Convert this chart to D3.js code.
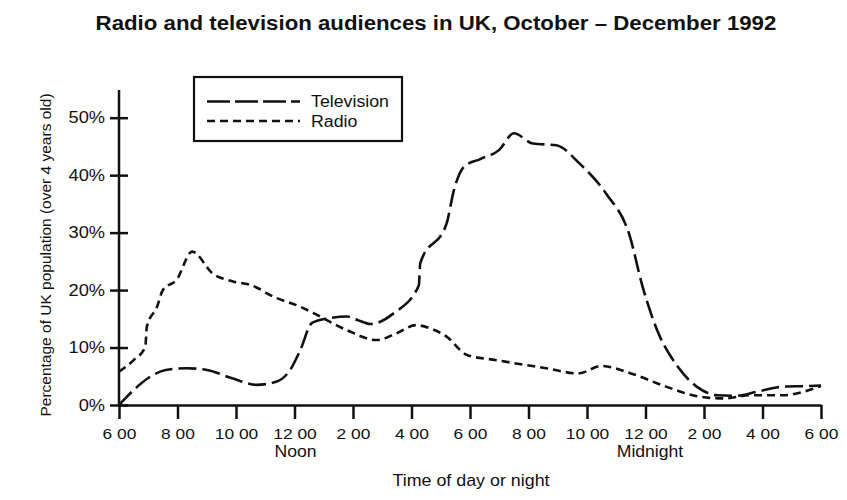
<!DOCTYPE html>
<html>
<head>
<meta charset="utf-8">
<script src="https://cdn.jsdelivr.net/npm/d3@7"></script>
<style>
  html, body { margin: 0; padding: 0; background: #fff; }
  svg { display: block; font-family: "Liberation Sans", Arial, sans-serif; }
</style>
</head>
<body>
<svg id="chart" width="847" height="500"></svg>
<script>
// Hours after 06:00 and audience share (% of UK population over 4)
const tvHours = [0, 0.5, 1.0, 1.6, 2.3, 3.0, 3.9, 4.7, 5.4, 5.85, 6.2, 6.6, 7.2, 7.8, 8.15, 8.6, 9.4, 10.25, 10.3, 11.2, 11.45, 11.8, 12.35, 13.0, 13.5, 14.15, 14.95, 15.75, 16.65, 17.45, 17.9, 18.4, 19.1, 19.75, 20.45, 21.1, 21.8, 22.7, 23.6, 24];
const tvValues = [0, 2.6, 4.7, 6.1, 6.4, 6.1, 4.6, 3.5, 4.1, 6.1, 9.6, 14.3, 15.1, 15.4, 14.8, 14.1, 16, 20.8, 24.7, 31.6, 37.4, 41.5, 42.8, 44.4, 47.3, 45.5, 45.2, 42, 36.8, 29.6, 20.6, 13, 6.7, 3.2, 1.7, 1.6, 2.3, 3.2, 3.3, 3.4];

const radioHours = [0, 0.5, 0.9, 0.95, 1.3, 1.5, 1.97, 2.5, 3.2, 3.9, 4.5, 5.3, 6.2, 6.65, 7.8, 8.8, 9.5, 10.15, 10.65, 11.2, 11.9, 12.9, 14.6, 15.7, 16.5, 17.5, 18.7, 19.85, 20.7, 21.6, 22.7, 23.4, 24];
const radioValues = [5.8, 7.8, 10.1, 13.6, 17.1, 20, 21.8, 26.7, 22.9, 21.5, 20.9, 18.8, 17.1, 16, 13, 11.3, 12.5, 13.9, 13.3, 11.9, 8.7, 7.8, 6.4, 5.5, 6.8, 5.5, 3.2, 1.45, 1.15, 1.7, 1.7, 2.3, 3.3];

const tickHours = [0, 2, 4, 6, 8, 10, 12, 14, 16, 18, 20, 22, 24];
const tickLabels = ["6 00", "8 00", "10 00", "12 00", "2 00", "4 00", "6 00", "8 00", "10 00", "12 00", "2 00", "4 00", "6 00"];
const yTicks = [0, 10, 20, 30, 40, 50];
const seriesNames = ["Television", "Radio"];

const svg = d3.select("#chart");
const ink = "#111";

// Text in this chart is set slightly wide; stretch glyphs horizontally.
function widen(sel, factor) {
  sel.each(function () {
    const w = this.getComputedTextLength();
    d3.select(this)
      .attr("textLength", w * factor)
      .attr("lengthAdjust", "spacingAndGlyphs");
  });
  return sel;
}

const x = d3.scaleLinear().domain([0, 24]).range([119, 821]);
const y = d3.scaleLinear().domain([0, 50]).range([405, 117.7]);

// Title
widen(svg.append("text")
  .attr("x", 436).attr("y", 30)
  .attr("text-anchor", "middle")
  .attr("font-size", 19.5).attr("font-weight", "bold")
  .attr("fill", ink)
  .text("Radio and television audiences in UK, October \u2013 December 1992"), 1.14);

// X axis
const xAxis = d3.axisBottom(x)
  .tickValues(tickHours)
  .tickSize(14)
  .tickSizeOuter(0)
  .tickPadding(9)
  .tickFormat((d, i) => tickLabels[i]);

const gx = svg.append("g").attr("transform", "translate(0,405)").call(xAxis);
gx.select(".domain").attr("stroke", ink).attr("stroke-width", 2.5);
gx.selectAll(".tick line").attr("stroke", ink).attr("stroke-width", 2.5);
widen(gx.selectAll(".tick text")
  .attr("font-size", 15.5).attr("fill", ink)
  .attr("font-family", "Liberation Sans, Arial, sans-serif"), 1.12);

// Y axis: ticks cross the axis line
const yAxis = d3.axisLeft(y)
  .tickValues(yTicks)
  .tickSize(9)
  .tickSizeOuter(0)
  .tickPadding(5)
  .tickFormat(d => d + "%");

const gy = svg.append("g").attr("transform", "translate(119,0)").call(yAxis);
gy.select(".domain").remove();
gy.append("line")
  .attr("x1", 0).attr("x2", 0)
  .attr("y1", y(54.8)).attr("y2", y(0))
  .attr("stroke", ink).attr("stroke-width", 2.5);
gy.selectAll(".tick line").attr("x2", -9).attr("x1", 9).attr("stroke", ink).attr("stroke-width", 2.5);
widen(gy.selectAll(".tick text")
  .attr("x", -14)
  .attr("font-size", 16).attr("fill", ink)
  .attr("font-family", "Liberation Sans, Arial, sans-serif"), 1.14);

// Axis captions
widen(svg.append("text")
  .attr("x", 295.5).attr("y", 457)
  .attr("text-anchor", "middle").attr("font-size", 16).attr("fill", ink)
  .text("Noon"), 1.1);
widen(svg.append("text")
  .attr("x", 650).attr("y", 457)
  .attr("text-anchor", "middle").attr("font-size", 16).attr("fill", ink)
  .text("Midnight"), 1.1);
widen(svg.append("text")
  .attr("x", 471).attr("y", 486)
  .attr("text-anchor", "middle").attr("font-size", 17).attr("fill", ink)
  .text("Time of day or night"), 1.05);
svg.append("text")
  .attr("transform", "translate(51,255) rotate(-90)")
  .attr("text-anchor", "middle").attr("font-size", 15.5).attr("fill", ink)
  .text("Percentage of UK population (over 4 years old)");

// Lines
const line = d3.line()
  .x(d => x(d[0]))
  .y(d => y(d[1]))
  .curve(d3.curveMonotoneX);

const tvData = tvHours.map((h, i) => [h, tvValues[i]]);
const radioData = radioHours.map((h, i) => [h, radioValues[i]]);

const dashes = { Television: "18,6", Radio: "8,5" };
const legendDashes = { Television: "23,5", Radio: "8,5" };

svg.append("path")
  .datum(radioData)
  .attr("d", line)
  .attr("fill", "none").attr("stroke", ink)
  .attr("stroke-width", 2.6)
  .attr("stroke-dasharray", dashes.Radio);

svg.append("path")
  .datum(tvData)
  .attr("d", line)
  .attr("fill", "none").attr("stroke", ink)
  .attr("stroke-width", 2.6)
  .attr("stroke-dasharray", dashes.Television);

// Legend
const legend = svg.append("g");
legend.append("rect")
  .attr("x", 194).attr("y", 77)
  .attr("width", 208).attr("height", 64)
  .attr("fill", "#fff").attr("stroke", ink).attr("stroke-width", 2.2);

seriesNames.forEach((name, i) => {
  const ly = 101.5 + i * 19.5;
  legend.append("line")
    .attr("x1", 207).attr("x2", 300)
    .attr("y1", ly).attr("y2", ly)
    .attr("stroke", ink).attr("stroke-width", 2.6)
    .attr("stroke-dasharray", legendDashes[name]);
  widen(legend.append("text")
    .attr("x", 311).attr("y", ly + 5.5)
    .attr("font-size", 16).attr("fill", ink)
    .text(name), 1.11);
});
</script>
</body>
</html>
